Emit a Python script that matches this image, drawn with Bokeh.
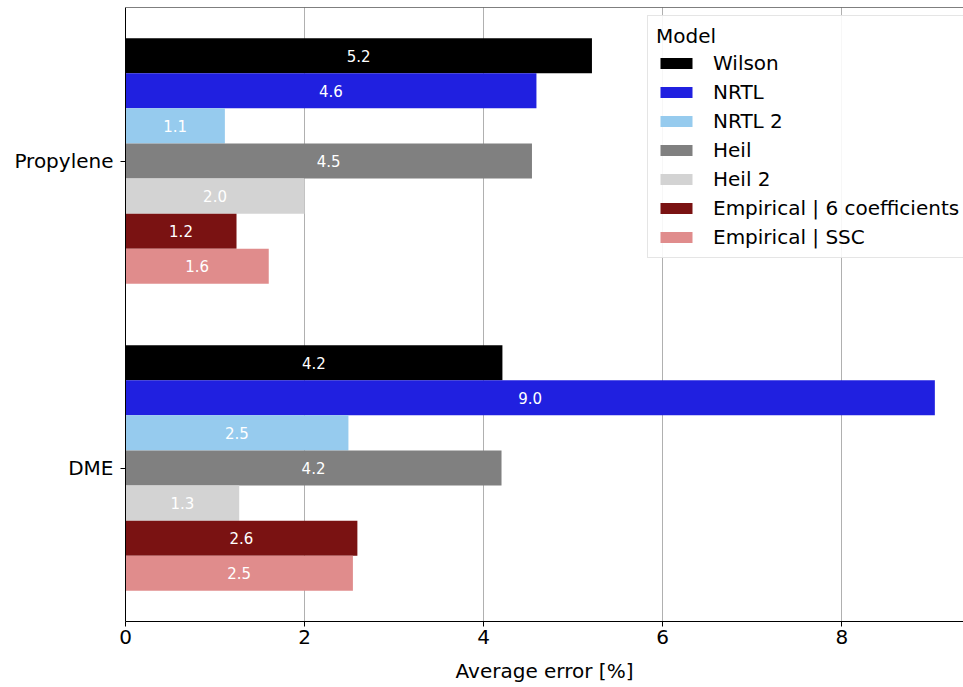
from bokeh.plotting import figure
from bokeh.models import ColumnDataSource, Range1d, FixedTicker, Legend, LegendItem, Span
from bokeh.transform import dodge
from bokeh.embed import file_html
from bokeh.resources import INLINE
from bokeh.core.properties import value

categories = ["Propylene", "DME"]
models = ["Wilson", "NRTL", "NRTL 2", "Heil", "Heil 2",
          "Empirical | 6 coefficients", "Empirical | SSC"]
wilson = [5.21, 4.21]
nrtl = [4.59, 9.04]
nrtl2 = [1.11, 2.49]
heil = [4.54, 4.20]
heil2 = [2.00, 1.27]
emp6 = [1.24, 2.59]
ssc = [1.60, 2.54]
x_ticks = [0, 2, 4, 6, 8]
colors = ["#000000", "#2020e0", "#96cbee", "#808080", "#d3d3d3", "#7a1212", "#e08c8c"]

series = [wilson, nrtl, nrtl2, heil, heil2, emp6, ssc]
pos = list(range(len(categories)))

data = dict(pos=pos)
for i, vals in enumerate(series):
    data[f"m{i}"] = vals
    data[f"m{i}_mid"] = [v / 2 for v in vals]
    data[f"m{i}_lbl"] = [f"{v:.1f}" for v in vals]
source = ColumnDataSource(data)

FONT = "DejaVu Sans"
FS = "20px"
FS_BAR = "15px"

p = figure(width=963, height=687, output_backend="svg", toolbar_location=None,
           x_range=Range1d(0, 9.36), y_range=Range1d(1.5, -0.5),
           min_border_left=125, min_border_right=0, min_border_top=7,
           min_border_bottom=66)
p.outline_line_color = None
p.background_fill_color = "white"
p.border_fill_color = "white"

n = len(models)
group_w = 0.8
h = group_w / n
items = []
for i, m in enumerate(models):
    off = -group_w / 2 + (i + 0.5) * h
    r = p.hbar(y=dodge("pos", off), left=0, right=f"m{i}", height=h,
               fill_color=colors[i], line_color=None, source=source)
    p.text(x=f"m{i}_mid", y=dodge("pos", off), text=f"m{i}_lbl", source=source,
           text_color="white", text_align="center", text_baseline="middle",
           text_font=value(FONT), text_font_size=FS_BAR)
    items.append(LegendItem(label=m, renderers=[r]))

top = Span(location=-0.5, dimension="width", line_color="black", line_width=1)
p.add_layout(top)

p.xgrid.grid_line_color = "#b0b0b0"
p.xgrid.grid_line_width = 1
p.ygrid.grid_line_color = None

p.xaxis.ticker = FixedTicker(ticks=x_ticks)
p.yaxis.ticker = FixedTicker(ticks=pos)
p.yaxis.major_label_overrides = {i: c for i, c in enumerate(categories)}
for ax in (p.xaxis, p.yaxis):
    ax.minor_tick_line_color = None
    ax.major_tick_in = 0
    ax.major_tick_out = 5
    ax.axis_line_color = "black"
    ax.major_tick_line_color = "black"
    ax.major_label_text_font = FONT
    ax.major_label_text_font_size = FS
    ax.major_label_text_color = "black"
p.xaxis.major_label_standoff = 3
p.yaxis.major_label_standoff = 7
p.xaxis.axis_label = "Average error [%]"
p.xaxis.axis_label_text_font = FONT
p.xaxis.axis_label_text_font_size = FS
p.xaxis.axis_label_text_font_style = "normal"
p.xaxis.axis_label_text_color = "black"
p.xaxis.axis_label_standoff = 12

legend = Legend(items=items, location=(522, 363), title="Model")
legend.title_text_font = FONT
legend.title_text_font_size = FS
legend.title_text_font_style = "normal"
legend.title_text_color = "black"
legend.title_standoff = 3
legend.label_text_font = FONT
legend.label_text_font_size = FS
legend.label_text_color = "black"
legend.glyph_width = 40
legend.glyph_height = 14
legend.label_height = 22
legend.spacing = 5
legend.label_standoff = 17
legend.padding = 8
legend.border_line_color = "#cccccc"
legend.border_line_width = 1
legend.background_fill_alpha = 0.9
p.add_layout(legend)

open("out.html", "w").write(file_html(p, INLINE))
